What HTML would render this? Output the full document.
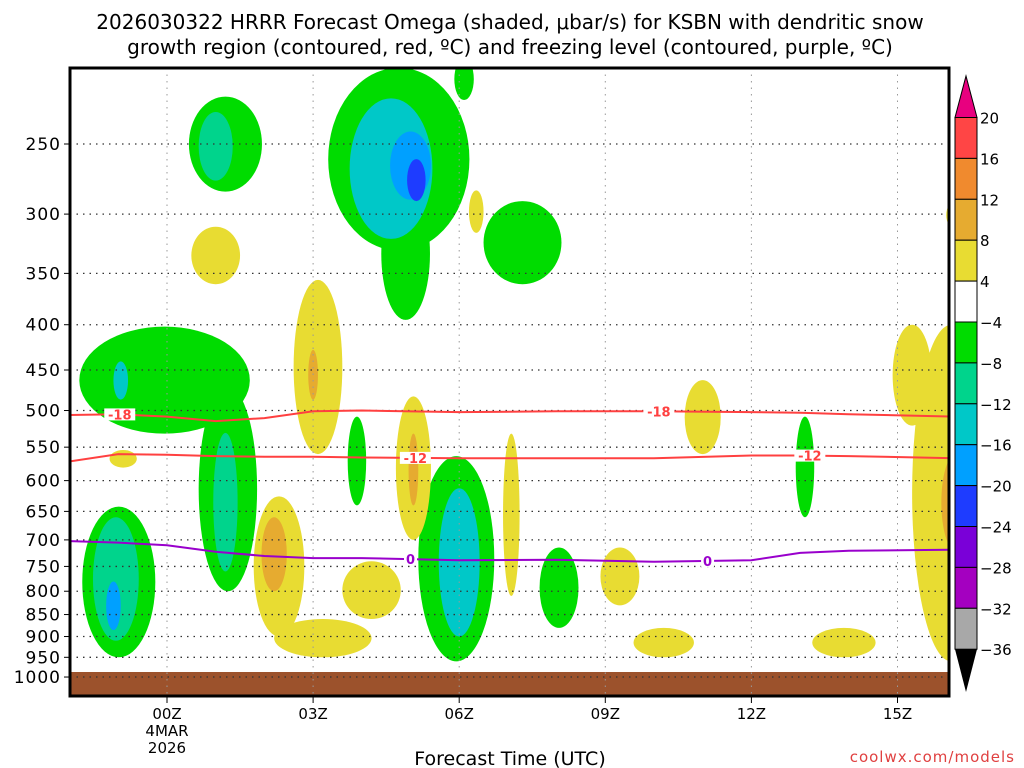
<!DOCTYPE html>
<html><head><meta charset="utf-8"><style>
body{margin:0;background:#fff;}
svg{display:block;font-family:"DejaVu Sans","Liberation Sans",sans-serif;}
</style></head><body>
<svg id="chart" width="1024" height="768">
<text x="510" y="29" text-anchor="middle" font-size="20">2026030322 HRRR Forecast Omega (shaded, μbar/s) for KSBN with dendritic snow</text>
<text x="510" y="54" text-anchor="middle" font-size="20">growth region (contoured, red, ºC) and freezing level (contoured, purple, ºC)</text>
<defs><clipPath id="pc"><rect x="70" y="68" width="879" height="628"/></clipPath></defs>
<g id="blobs" clip-path="url(#pc)"></g>
<g id="grid"></g>
<g id="lines" clip-path="url(#pc)"></g>
<rect x="70" y="68" width="879" height="628" fill="none" stroke="#000" stroke-width="3"/>
<g id="axes"></g>
<g id="cbar"></g>
<text x="510" y="765" text-anchor="middle" font-size="19">Forecast Time (UTC)</text>
<text x="1015" y="762" text-anchor="end" font-size="15" fill="#e04040" letter-spacing="1">coolwx.com/models</text>
</svg>
<script>
const pLevels=[250,300,350,400,450,500,550,600,650,700,750,800,850,900,950,1000];
const xHours=[0,3,6,9,12,15];
const xLabels=["00Z","03Z","06Z","09Z","12Z","15Z"];
const cbLabels=["20","16","12","8","4","−4","−8","−12","−16","−20","−24","−28","−32","−36"];
const cbColors=["#ff4545","#f08a2e","#e6ab30","#e8dc32","#ffffff","#00dc00","#00d48c","#00c8c8","#00a0ff","#1e3cff","#7a00d8","#a400c0","#a8a8a8"];
// blobs: hour center, half-width (h), top pressure, bottom pressure, level index into cbColors
const blobHour=[1.2,1.0, 4.76,4.9,4.6,5.0,5.12, 6.1, 7.3, -0.05,1.25,1.2,-0.95, -0.99,-1.05,-1.1, 5.94,6.0, 3.9, 8.05, 13.1,
 1.0,3.1,3.0,5.06,5.06,6.35,7.07,2.3,2.2,4.2,3.2,-0.9,9.3,10.2,11.0,13.9,16.1,15.3,16.2,16.2];
const blobHw=[0.75,0.35, 1.45,0.5,0.85,0.42,0.19, 0.2, 0.8, 1.75,0.6,0.25,0.15, 0.75,0.47,0.15, 0.78,0.42, 0.19, 0.4, 0.19,
 0.5,0.5,0.1,0.36,0.1,0.15,0.17,0.52,0.26,0.6,1.0,0.28,0.4,0.62,0.37,0.65,0.8,0.4,0.3,0.2];
const blobTop=[221,230, 205,280,222,242,260, 200, 290, 402,470,530,440, 642,660,780, 563,612, 508, 714, 508,
 310,356,427,482,531,282,531,625,660,740,860,554,714,880,462,880,400,400,560,290];
const blobBot=[283,275, 330,395,320,289,290, 223, 360, 531,800,760,486, 950,910,885, 960,900, 640, 880, 660,
 360,560,486,700,640,315,810,900,800,860,950,580,830,950,560,950,960,520,720,312];
const blobLevel=[5,6, 5,5,7,8,9, 5, 5, 5,5,6,7, 5,6,8, 5,7, 5, 5, 5,
 3,3,2,3,2,3,3,3,2,3,3,3,3,3,3,3,3,3,2,3];
// contour lines: pressure at each hour
const lineHours=[-2.1,-1,0,1,2,3,4,6,8,10,12,13,14,16.2];
const t18=[506,505,508,514,510,501,500,502,501,501,502,503,505,508];
const t12=[572,560,561,563,564,564,565,566,566,566,562,562,563,566];
const t0=[702,705,710,722,730,734,734,738,737,741,738,724,720,718];
const labHours=[-0.97,10.1,5.1,13.2,5.0,11.1];
const labText=["-18","-18","-12","-12","0","0"];
const labSeries=[0,0,1,1,2,2];

const NS="http://www.w3.org/2000/svg";
function X(h){return 167+48.7*h;}
function Y(p){return -1979+384.5*Math.log(p);}
function mk(t,a,par){const e=document.createElementNS(NS,t);for(const k in a)e.setAttribute(k,a[k]);par.appendChild(e);return e;}
const gB=document.getElementById('blobs'),gG=document.getElementById('grid'),gL=document.getElementById('lines'),gA=document.getElementById('axes'),gC=document.getElementById('cbar');
blobHour.forEach((h,i)=>{
 const cx=X(h),rx=blobHw[i]*48.7,y1=Y(blobTop[i]),y2=Y(blobBot[i]);
 const e=mk('ellipse',{cx:cx,cy:(y1+y2)/2,rx:rx,ry:(y2-y1)/2,fill:cbColors[blobLevel[i]]},gB);
 
 
});
const ground=mk('rect',{x:70,y:672,width:879,height:24,fill:'#9c522c'},gB);


pLevels.forEach(p=>{
 const y=Y(p);
 const l=mk('line',{x1:70,x2:949,y1:y,y2:y,stroke:'#333','stroke-width':1.3,'stroke-dasharray':'1.5 5'},gG);
 
 
 mk('line',{x1:64,x2:70,y1:y,y2:y,stroke:'#000','stroke-width':1},gA);
 const t=mk('text',{x:61,y:y+6,'text-anchor':'end','font-size':17,'letter-spacing':'1'},gA);
 t.textContent=p;
 
 
});
xHours.forEach((h,i)=>{
 const x=X(h);
 const l=mk('line',{x1:x,x2:x,y1:68,y2:696,stroke:'#999','stroke-width':1,'stroke-dasharray':'1.5 5'},gG);
 
 
 mk('line',{x1:x,x2:x,y1:696,y2:703,stroke:'#000'},gA);
 const t=mk('text',{x:x,y:719,'text-anchor':'middle','font-size':15},gA);
 t.textContent=xLabels[i];
 
 
});
[["4MAR",736],["2026",753]].forEach(d=>{const t=mk('text',{x:X(0),y:d[1],'text-anchor':'middle','font-size':15},gA);t.textContent=d[0];
 
 });
const series=[t18,t12,t0],scol=['#ff4040','#ff4040','#9900cc'];
series.forEach((s,k)=>{
 const d=s.map((p,i)=>(i?'L':'M')+X(lineHours[i]).toFixed(1)+','+Y(p).toFixed(1)).join('');
 const l=mk('path',{d:d,fill:'none',stroke:scol[k],'stroke-width':2},gL);
 
 
});
function interp(s,h){for(let i=0;i<lineHours.length-1;i++){if(h>=lineHours[i]&&h<=lineHours[i+1]){const f=(h-lineHours[i])/(lineHours[i+1]-lineHours[i]);return s[i]+f*(s[i+1]-s[i]);}}return s[0];}
labHours.forEach((h,i)=>{
 const s=series[labSeries[i]],y=Y(interp(s,h)),x=X(h);
 const w=labText[i].length*9+4;
 mk('rect',{x:x-w/2,y:y-6,width:w,height:12,fill:'#fff'},gL);
 const t=mk('text',{x:x,y:y+5,'text-anchor':'middle','font-size':13,'font-weight':'bold',fill:scol[labSeries[i]]},gL);
 t.textContent=labText[i];
 
 
});
// colorbar
const cx0=955,cw=22,cy0=117.5,ch=40.9;
mk('polygon',{points:`${cx0},${cy0} ${cx0+cw},${cy0} ${cx0+cw/2},76`,fill:'#e8007f',stroke:'#000'},gC);
cbColors.forEach((c,i)=>{
 const r=mk('rect',{x:cx0,y:cy0+i*ch,width:cw,height:ch,fill:c,stroke:'#000','stroke-width':1},gC);
 
 
});
const yb=cy0+cbColors.length*ch;
mk('polygon',{points:`${cx0},${yb} ${cx0+cw},${yb} ${cx0+cw/2},692`,fill:'#000'},gC);
cbLabels.forEach((t,i)=>{
 const e=mk('text',{x:cx0+cw+3,y:cy0+i*ch+6,'font-size':15},gC);
 e.textContent=t;
 
 
});
</script>
</body></html>
